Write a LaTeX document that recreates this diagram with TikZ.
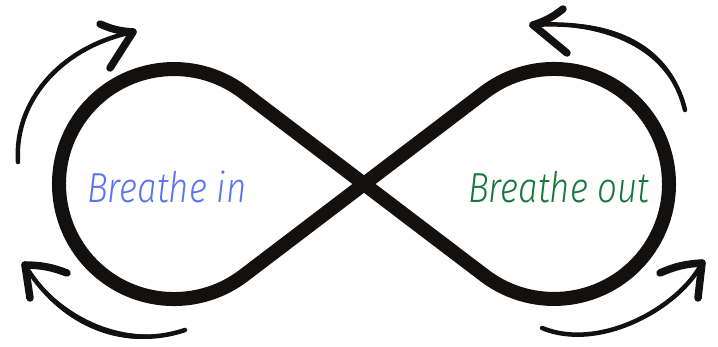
\documentclass[tikz,border=0pt]{standalone}
\usepackage{fontspec}
\newfontfamily\handfont{Fira Sans Light Italic}
\definecolor{inkblack}{HTML}{121110}
\definecolor{inblue}{HTML}{5B74F2}
\definecolor{outgreen}{HTML}{17763A}
\tikzset{
  loopline/.style={draw=inkblack, line width=14pt, line join=round, line cap=round},
  handarrow/.style={draw=inkblack, line width=4.5pt, line cap=round, line join=round},
  lens/.style={fill=inkblack},
  barb/.style={draw=inkblack, line width=7.5pt, line cap=round},
  label/.style={font=\handfont\fontsize{42}{42}\selectfont, inner sep=0pt, anchor=base west, xscale=0.83, transform shape}
}
\begin{document}
\begin{tikzpicture}[x=1pt,y=1pt]
\useasboundingbox (0,0) rectangle (718,347);
% infinity
\coordinate (X) at (364,163);
\coordinate (LT) at (243.2,254.8);
\coordinate (RT) at (484.8,71.2);
\path[loopline] (X) -- (LT) arc[start angle=53, end angle=307, radius=115] -- (X)
  -- (RT) arc[start angle=233, end angle=487, radius=115] -- cycle;
% texts
\node[label, text=inblue] (in) at (87,144) {Breathe in};
\node[label, text=outgreen] (out) at (468,144) {Breathe out};
% arrow top-left
\coordinate (a1s) at (18,185); \coordinate (a1t) at (133,315);
\path[handarrow] (a1s) .. controls (14,245) and (60,300) .. (a1t);
\path[lens] (a1s) .. controls (19,245) and (59,305) .. (a1t) .. controls (61,295) and (9,245) .. (a1s);
\path[barb] (a1t) to[bend left=10] (100,323);
\path[barb] (a1t) -- (110,279);
% arrow bottom-left
\coordinate (a2s) at (185,17); \coordinate (a2t) at (25,82);
\path[handarrow] (a2s) .. controls (120,-5) and (55,30) .. (a2t);
\path[lens] (a2s) .. controls (118.3,0) and (59.3,32.5) .. (a2t) .. controls (50.7,27.5) and (121.7,-10) .. (a2s);
\path[barb] (a2t) to[bend left=10] (67,74);
\path[barb] (a2t) -- (30,49);
% arrow top-right
\coordinate (a3s) at (685,237); \coordinate (a3t) at (533,322);
\path[handarrow] (a3s) .. controls (670,300) and (610,327) .. (a3t);
\path[lens] (a3s) .. controls (674.8,301.2) and (610.3,332) .. (a3t) .. controls (609.7,322) and (665.2,298.8) .. (a3s);
\path[barb] (a3t) to[bend right=10] (563,338);
\path[barb] (a3t) -- (567,294);
% arrow bottom-right
\coordinate (a4s) at (542,19); \coordinate (a4t) at (702,84);
\path[handarrow] (a4s) .. controls (600,-5) and (680,40) .. (a4t);
\path[lens] (a4s) .. controls (601.8,-0.3) and (684.5,37.8) .. (a4t) .. controls (675.5,42.2) and (598.2,-9.7) .. (a4s);
\path[barb] (a4t) to[bend right=10] (660,74);
\path[barb] (a4t) -- (698,49);
\end{tikzpicture}
\end{document}
